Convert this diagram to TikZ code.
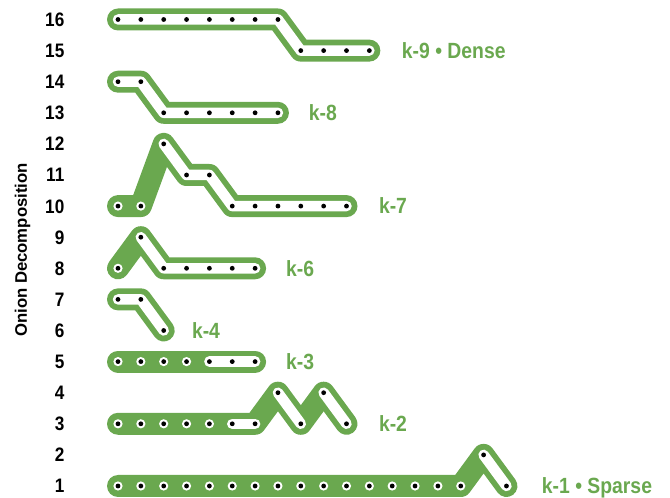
\documentclass[tikz,border=0pt]{standalone}
\usepackage{fontspec}
\setmainfont{Liberation Sans}[FakeStretch=0.88]
\newfontfamily\axisfont{Liberation Sans}
\definecolor{shell}{HTML}{6AA84F}
\begin{document}
\begin{tikzpicture}[
  band/.style={draw=shell, line width=22pt, line cap=round, line join=round},
  hollow/.style={draw=white, line width=10.5pt, line cap=round, line join=round},
  rowlab/.style={anchor=base east, inner sep=0pt, font=\bfseries\fontsize{19.5}{20}\selectfont},
  shelllab/.style={anchor=base west, inner sep=0pt, text=shell, font=\bfseries\fontsize{22}{22}\selectfont},
]
\useasboundingbox (0,0) rectangle (670pt,498pt);

% vertex grid: one column per vertex, one row per onion layer
\begin{scope}[x=22.85pt, y=31.1pt, shift={(118pt,12pt)}]
  % k-9
  \foreach \i in {0,...,7} \coordinate (n9-\i) at (\i,15);
  \foreach \i in {8,...,11} \coordinate (n9-\i) at (\i,14);
  % k-8
  \foreach \i in {0,1} \coordinate (n8-\i) at (\i,13);
  \foreach \i in {2,...,7} \coordinate (n8-\i) at (\i,12);
  % k-7
  \coordinate (n7-0) at (0,9);
  \coordinate (n7-1) at (1,9);
  \coordinate (n7-2) at (2,11);
  \coordinate (n7-3) at (3,10);
  \coordinate (n7-4) at (4,10);
  \foreach \i in {5,...,10} \coordinate (n7-\i) at (\i,9);
  % k-6
  \coordinate (n6-0) at (0,7);
  \coordinate (n6-1) at (1,8);
  \foreach \i in {2,...,6} \coordinate (n6-\i) at (\i,7);
  % k-4
  \coordinate (n4-0) at (0,6);
  \coordinate (n4-1) at (1,6);
  \coordinate (n4-2) at (2,5);
  % k-3
  \foreach \i in {0,...,6} \coordinate (n3-\i) at (\i,4);
  % k-2
  \foreach \i in {0,...,6} \coordinate (n2-\i) at (\i,2);
  \coordinate (n2-7) at (7,3);
  \coordinate (n2-8) at (8,2);
  \coordinate (n2-9) at (9,3);
  \coordinate (n2-10) at (10,2);
  % k-1
  \foreach \i in {0,...,15} \coordinate (n1-\i) at (\i,0);
  \coordinate (n1-16) at (16,1);
  \coordinate (n1-17) at (17,0);
\end{scope}

% shell bands
\draw[band] (n9-0) -- (n9-7) -- (n9-8) -- (n9-11);
\draw[hollow] (n9-0) -- (n9-7) -- (n9-8) -- (n9-11);

\draw[band] (n8-0) -- (n8-1) -- (n8-2) -- (n8-7);
\draw[hollow] (n8-0) -- (n8-1) -- (n8-2) -- (n8-7);

\draw[band] (n7-0) -- (n7-1) -- (n7-2) -- (n7-3) -- (n7-4) -- (n7-5) -- (n7-10);
\draw[hollow] (n7-2) -- (n7-3) -- (n7-4) -- (n7-5) -- (n7-10);

\draw[band] (n6-0) -- (n6-1) -- (n6-2) -- (n6-6);
\draw[hollow] (n6-1) -- (n6-2) -- (n6-6);

\draw[band] (n4-0) -- (n4-1) -- (n4-2);
\draw[hollow] (n4-0) -- (n4-1) -- (n4-2);

\draw[band] (n3-0) -- (n3-6);
\draw[hollow] (n3-4) -- (n3-6);

\draw[band] (n2-0) -- (n2-6) -- (n2-7) -- (n2-8) -- (n2-9) -- (n2-10);
\draw[hollow] (n2-5) -- (n2-6);
\draw[hollow] (n2-7) -- (n2-8);
\draw[hollow] (n2-9) -- (n2-10);

\draw[band] (n1-0) -- (n1-15) -- (n1-16) -- (n1-17);
\draw[hollow] (n1-16) -- (n1-17);

% vertices inside solid parts get a white ring
\foreach \c in {n7-0,n7-1,n6-0,n3-0,n3-1,n3-2,n3-3,n2-0,n2-1,n2-2,n2-3,n2-4}
  \fill[white] (\c) circle (4.6pt);
\foreach \i in {0,...,15} \fill[white] (n1-\i) circle (4.6pt);

% vertices
\foreach \i in {0,...,11} \fill (n9-\i) circle (2.4pt);
\foreach \i in {0,...,7} \fill (n8-\i) circle (2.4pt);
\foreach \i in {0,...,10} \fill (n7-\i) circle (2.4pt);
\foreach \i in {0,...,6} \fill (n6-\i) circle (2.4pt);
\foreach \i in {0,...,2} \fill (n4-\i) circle (2.4pt);
\foreach \i in {0,...,6} \fill (n3-\i) circle (2.4pt);
\foreach \i in {0,...,10} \fill (n2-\i) circle (2.4pt);
\foreach \i in {0,...,17} \fill (n1-\i) circle (2.4pt);

% layer numbers
\foreach \r in {1,...,16}
  \node[rowlab] (r\r) at (64.5pt, {12pt + 31.1pt*(\r-1) - 7pt}) {\r};

% shell labels
\node[shelllab] (t9) at ([xshift=32.4pt, yshift=-7.8pt]n9-11) {k-9 • Dense};
\node[shelllab] (t8) at ([xshift=30.8pt, yshift=-7.8pt]n8-7) {k-8};
\node[shelllab] (t7) at ([xshift=32.3pt, yshift=-7.8pt]n7-10) {k-7};
\node[shelllab] (t6) at ([xshift=30.8pt, yshift=-7.8pt]n6-6) {k-6};
\node[shelllab] (t4) at ([xshift=28.1pt, yshift=-7.8pt]n4-2) {k-4};
\node[shelllab] (t3) at ([xshift=30.8pt, yshift=-7.8pt]n3-6) {k-3};
\node[shelllab] (t2) at ([xshift=32.3pt, yshift=-7.8pt]n2-10) {k-2};
\node[shelllab] (t1) at ([xshift=35.3pt, yshift=-7.8pt]n1-17) {k-1 • Sparse};

% axis title
\node[rotate=90, anchor=base, inner sep=0pt,
      font=\axisfont\bfseries\fontsize{16.7}{17}\selectfont] (axis) at (27pt, 248pt) {Onion Decomposition};
\end{tikzpicture}
\end{document}
